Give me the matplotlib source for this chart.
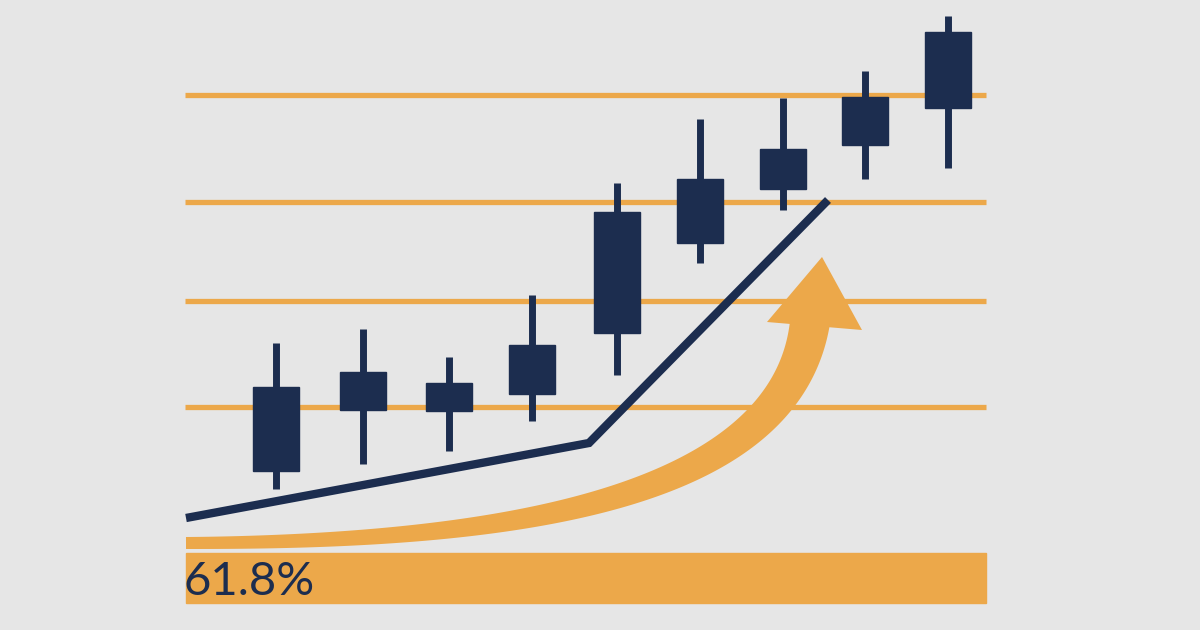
import numpy as np
import matplotlib
matplotlib.use("Agg")
import matplotlib.pyplot as plt
from matplotlib.patches import Rectangle, Polygon

# candle data (pixel-space units, y grows downward)
candle_x = [276, 363, 449, 532, 617, 700, 783, 865, 948]
candle_high = [343, 329, 357, 295, 183, 119, 98, 71, 16]
candle_low = [489, 464, 451, 421, 375, 263, 210, 179, 168]
body_top = [387, 372, 383, 345, 212, 179, 149, 97, 32]
body_bottom = [471, 410, 411, 394, 333, 243, 189, 145, 108]

# fibonacci level lines
level_y = [95, 202, 301, 407]
level_x0, level_x1 = 185, 986

# trend line
trend_x = [186, 589, 828]
trend_y = [518, 443, 200]

# curved arrow (cubic bezier control points) and head
arrow_ctrl_x = [186, 490, 785, 810]
arrow_ctrl_y = [543, 542, 505, 322]
head_x = [767, 822, 862]
head_y = [322, 257, 330]

label = "61.8%"

NAVY = "#1c2d4f"
ORANGE = "#eca84a"
BG = "#e6e6e6"

fig = plt.figure(figsize=(12, 6.3), dpi=100)
fig.patch.set_facecolor(BG)
ax = fig.add_axes([0, 0, 1, 1])
ax.set_facecolor(BG)
ax.set_xlim(0, 1200)
ax.set_ylim(630, 0)
ax.axis("off")

# level lines
for y in level_y:
    ax.plot([level_x0, level_x1], [y, y], color=ORANGE, lw=3.8,
            solid_capstyle="butt", zorder=1)

# bottom bar
ax.add_patch(Rectangle((186, 553), 800, 50, color=ORANGE, zorder=1))
ax.text(183, 595, label, fontsize=34, color=NAVY, family="Lato",
        ha="left", va="baseline", zorder=5)

# curved arrow shaft
t = np.linspace(0, 1, 200)
P = np.array([arrow_ctrl_x, arrow_ctrl_y], dtype=float)
b = ((1 - t) ** 3)[:, None] * P[:, 0] + (3 * (1 - t) ** 2 * t)[:, None] * P[:, 1] \
    + (3 * (1 - t) * t ** 2)[:, None] * P[:, 2] + (t ** 3)[:, None] * P[:, 3]
d = (3 * (1 - t) ** 2)[:, None] * (P[:, 1] - P[:, 0]) \
    + (6 * (1 - t) * t)[:, None] * (P[:, 2] - P[:, 1]) \
    + (3 * t ** 2)[:, None] * (P[:, 3] - P[:, 2])
d = d / np.linalg.norm(d, axis=1)[:, None]
n = np.column_stack([-d[:, 1], d[:, 0]])
hw = 6 + 14 * t ** 1.3
left = b + n * hw[:, None]
right = b - n * hw[:, None]
ax.add_patch(Polygon(np.vstack([left, right[::-1]]), closed=True,
                     color=ORANGE, lw=0, zorder=2))
ax.add_patch(Polygon(np.column_stack([head_x, head_y]), closed=True,
                     color=ORANGE, lw=0, zorder=2))

# trend line
ax.plot(trend_x, trend_y, color=NAVY, lw=6, solid_joinstyle="miter",
        solid_capstyle="butt", zorder=3)

# candles
bw = 46
for x, hi, lo, bt, bb in zip(candle_x, candle_high, candle_low, body_top, body_bottom):
    ax.plot([x, x], [hi, lo], color=NAVY, lw=5, solid_capstyle="butt", zorder=3)
    ax.add_patch(Rectangle((x - bw / 2, bt), bw, bb - bt, color=NAVY, zorder=4))

fig.savefig("out.png", dpi=100, facecolor=BG)
